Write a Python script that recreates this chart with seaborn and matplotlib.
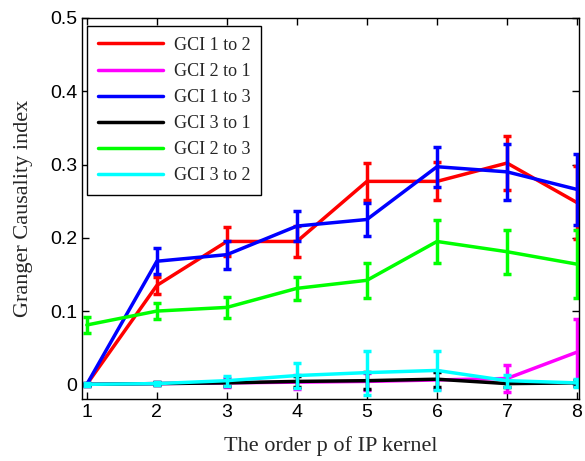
import numpy as np
import pandas as pd
import seaborn as sns
import matplotlib
matplotlib.use("Agg")
import matplotlib.pyplot as plt

# orden p del kernel IP
orders = [1, 2, 3, 4, 5, 6, 7, 8]

labels = ['GCI 1 to 2', 'GCI 2 to 1', 'GCI 1 to 3', 'GCI 3 to 1', 'GCI 2 to 3', 'GCI 3 to 2']
colors = ['#ff0000', '#ff00ff', '#0000ff', '#000000', '#00ff00', '#00ffff']

gci_12 = [0.0, 0.135, 0.195, 0.195, 0.277, 0.277, 0.302, 0.248]
err_12 = [0.002, 0.012, 0.020, 0.021, 0.025, 0.026, 0.037, 0.050]
gci_21 = [0.0, 0.001, 0.002, 0.003, 0.004, 0.006, 0.008, 0.044]
err_21 = [0.001, 0.002, 0.006, 0.010, 0.012, 0.012, 0.018, 0.045]
gci_13 = [0.0, 0.168, 0.177, 0.216, 0.225, 0.297, 0.290, 0.266]
err_13 = [0.002, 0.018, 0.019, 0.020, 0.022, 0.027, 0.038, 0.048]
gci_31 = [0.0, 0.001, 0.002, 0.004, 0.005, 0.007, 0.001, 0.002]
err_31 = [0.001, 0.002, 0.004, 0.008, 0.012, 0.010, 0.004, 0.004]
gci_23 = [0.081, 0.100, 0.105, 0.131, 0.142, 0.195, 0.181, 0.164]
err_23 = [0.011, 0.011, 0.014, 0.016, 0.024, 0.029, 0.030, 0.046]
gci_32 = [0.0, 0.001, 0.005, 0.012, 0.016, 0.019, 0.005, 0.002]
err_32 = [0.002, 0.002, 0.007, 0.017, 0.030, 0.027, 0.008, 0.005]

series = [gci_12, gci_21, gci_13, gci_31, gci_23, gci_32]
errors = [err_12, err_21, err_13, err_31, err_23, err_32]

sns.set_style("ticks")
plt.rcParams['font.family'] = ['Liberation Sans', 'DejaVu Sans']

fig = plt.figure(figsize=(5.85, 4.61), dpi=100)
ax = fig.add_axes([0.140, 0.1345, 0.850, 0.8265])

for lab, col, vals, err in zip(labels, colors, series, errors):
    df = pd.DataFrame({'p': orders, 'gci': vals})
    sns.lineplot(data=df, x='p', y='gci', color=col, linewidth=2.5, label=lab, ax=ax)
    ax.errorbar(orders, vals, yerr=err, fmt='none', ecolor=col,
                elinewidth=2.5, capsize=3.0, capthick=2.5)

ax.set_xlim(0.93, 8.03)
ax.set_ylim(-0.02, 0.5)
ax.set_xticks(orders)
ax.set_yticks([0, 0.1, 0.2, 0.3, 0.4, 0.5])
ax.set_yticklabels(['0', '0.1', '0.2', '0.3', '0.4', '0.5'])
ax.tick_params(direction='in', top=True, right=True, length=5, width=1,
               labelsize=14, colors='black')
for s in ax.spines.values():
    s.set_visible(True)
    s.set_linewidth(1)
    s.set_color('black')

ax.set_xlabel('The order p of IP kernel', fontsize=16, family='Liberation Serif', labelpad=11)
ax.set_ylabel('Granger Causality index', fontsize=16, family='Liberation Serif', labelpad=12)

leg = ax.legend(loc='upper left', bbox_to_anchor=(0.01, 0.979), borderaxespad=0,
                prop={'family': 'Liberation Serif', 'size': 13},
                handlelength=3.6, handletextpad=0.6, labelspacing=0.5,
                borderpad=0.6, fancybox=False, framealpha=1)
leg.get_frame().set_edgecolor('black')
leg.get_frame().set_linewidth(1)

fig.savefig('out.png', dpi=100)
